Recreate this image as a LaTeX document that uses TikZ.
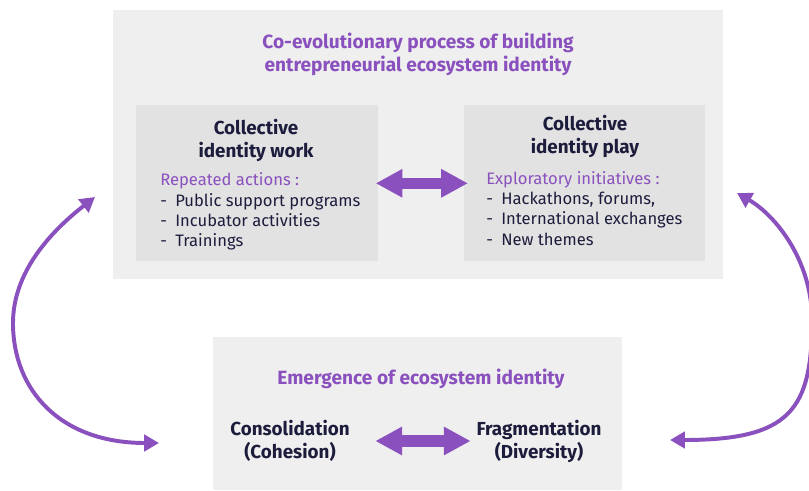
\documentclass[tikz,border=0pt]{standalone}
\usepackage{fontspec}
\setmainfont{Fira Sans}
\usepackage{tikz}
\usetikzlibrary{positioning, arrows.meta}
\usepackage{xcolor}
\definecolor{ecoPurple}{HTML}{8A50BE}
\definecolor{ecoNavy}{HTML}{1C1C3C}
\definecolor{ecoPanel}{HTML}{EFEFEF}
\definecolor{ecoCard}{HTML}{E2E2E2}

\begin{document}
\begin{tikzpicture}[x=0.025cm, y=-0.025cm,
    panel/.style={
      rectangle, fill=ecoPanel, anchor=north west, inner sep=0pt
    },
    card/.style={
      rectangle, fill=ecoCard, anchor=north west, inner sep=0pt,
      minimum width=6.05cm, minimum height=3.9cm
    },
    heading/.style={
      align=center, text=ecoNavy, inner sep=0pt,
      font=\fontsize{13.4}{16.3}\selectfont\bfseries
    },
    caption/.style={
      align=center, text=ecoPurple, inner sep=0pt,
      font=\fontsize{13.6}{16.3}\selectfont\bfseries
    },
    items/.style={
      align=left, anchor=west, text=ecoNavy, inner sep=0pt,
      font=\fontsize{11.8}{14.4}\selectfont
    },
    fatarrow/.style={
      draw=ecoPurple, line width=8.2pt,
      >={Triangle[length=19pt, width=19pt]}, <->
    },
    looparrow/.style={
      draw=ecoPurple, line width=2.8pt,
      >={Triangle[length=10.5pt, width=11.5pt]}, <->
    }
  ]
  % Page frame
  \fill[white] (0,0) rectangle (809,491);
  \useasboundingbox (0,0) rectangle (809,491);

  % Upper panel: co-evolutionary process
  \node[panel, minimum width=15.25cm, minimum height=6.725cm] (process) at (113,10) {};
  \node[caption] (processtitle) at (418,54)
    {Co-evolutionary process of building\\entrepreneurial ecosystem identity};

  \node[card] (work) at (136,105) {};
  \node[heading] (worktitle) at (256,140.5) {Collective\\identity work};
  \node[items] (worklist) at (160,211.5)
    {\textcolor{ecoPurple}{Repeated actions :}\\
     -\enspace Public support programs\\
     -\enspace Incubator activities\\
     -\enspace Trainings};

  \node[card, minimum width=6.025cm] (play) at (464,105) {};
  \node[heading] (playtitle) at (585,136) {Collective\\identity play};
  \node[items] (playlist) at (486,208.5)
    {\textcolor{ecoPurple}{Exploratory initiatives :}\\
     -\enspace Hackathons, forums,\\
     -\enspace International exchanges\\
     -\enspace New themes};

  \draw[fatarrow, shorten <=-2.1pt, shorten >=-2.8pt] (work.east) -- (play.west);

  % Lower panel: emergence
  \node[panel, minimum width=10.225cm, minimum height=3.825cm] (emergence) at (213,337) {};
  \node[caption] (emergencetitle) at (421,379) {Emergence of ecosystem identity};
  \node[heading] (cons) at (290,441) {Consolidation\\(Cohesion)};
  \node[heading] (frag) at (539,441) {Fragmentation\\(Diversity)};

  \draw[fatarrow, shorten <=18pt, shorten >=4pt] (cons.east) -- (frag.west);

  % Feedback loops between the two levels
  \coordinate (loopA) at (95,197);
  \coordinate (loopB) at (159,443);
  \coordinate (loopC) at (737,193);
  \coordinate (loopD) at (670,440);

  \draw[looparrow] (loopA) .. controls (40,240) and (13,280) .. (13,323)
    .. controls (13,390) and (60,443) .. (loopB);
  \draw[looparrow] (loopC) .. controls (775,215) and (812,260) .. (812,320)
    .. controls (812,410) and (790,440) .. (loopD);
\end{tikzpicture}
\end{document}
